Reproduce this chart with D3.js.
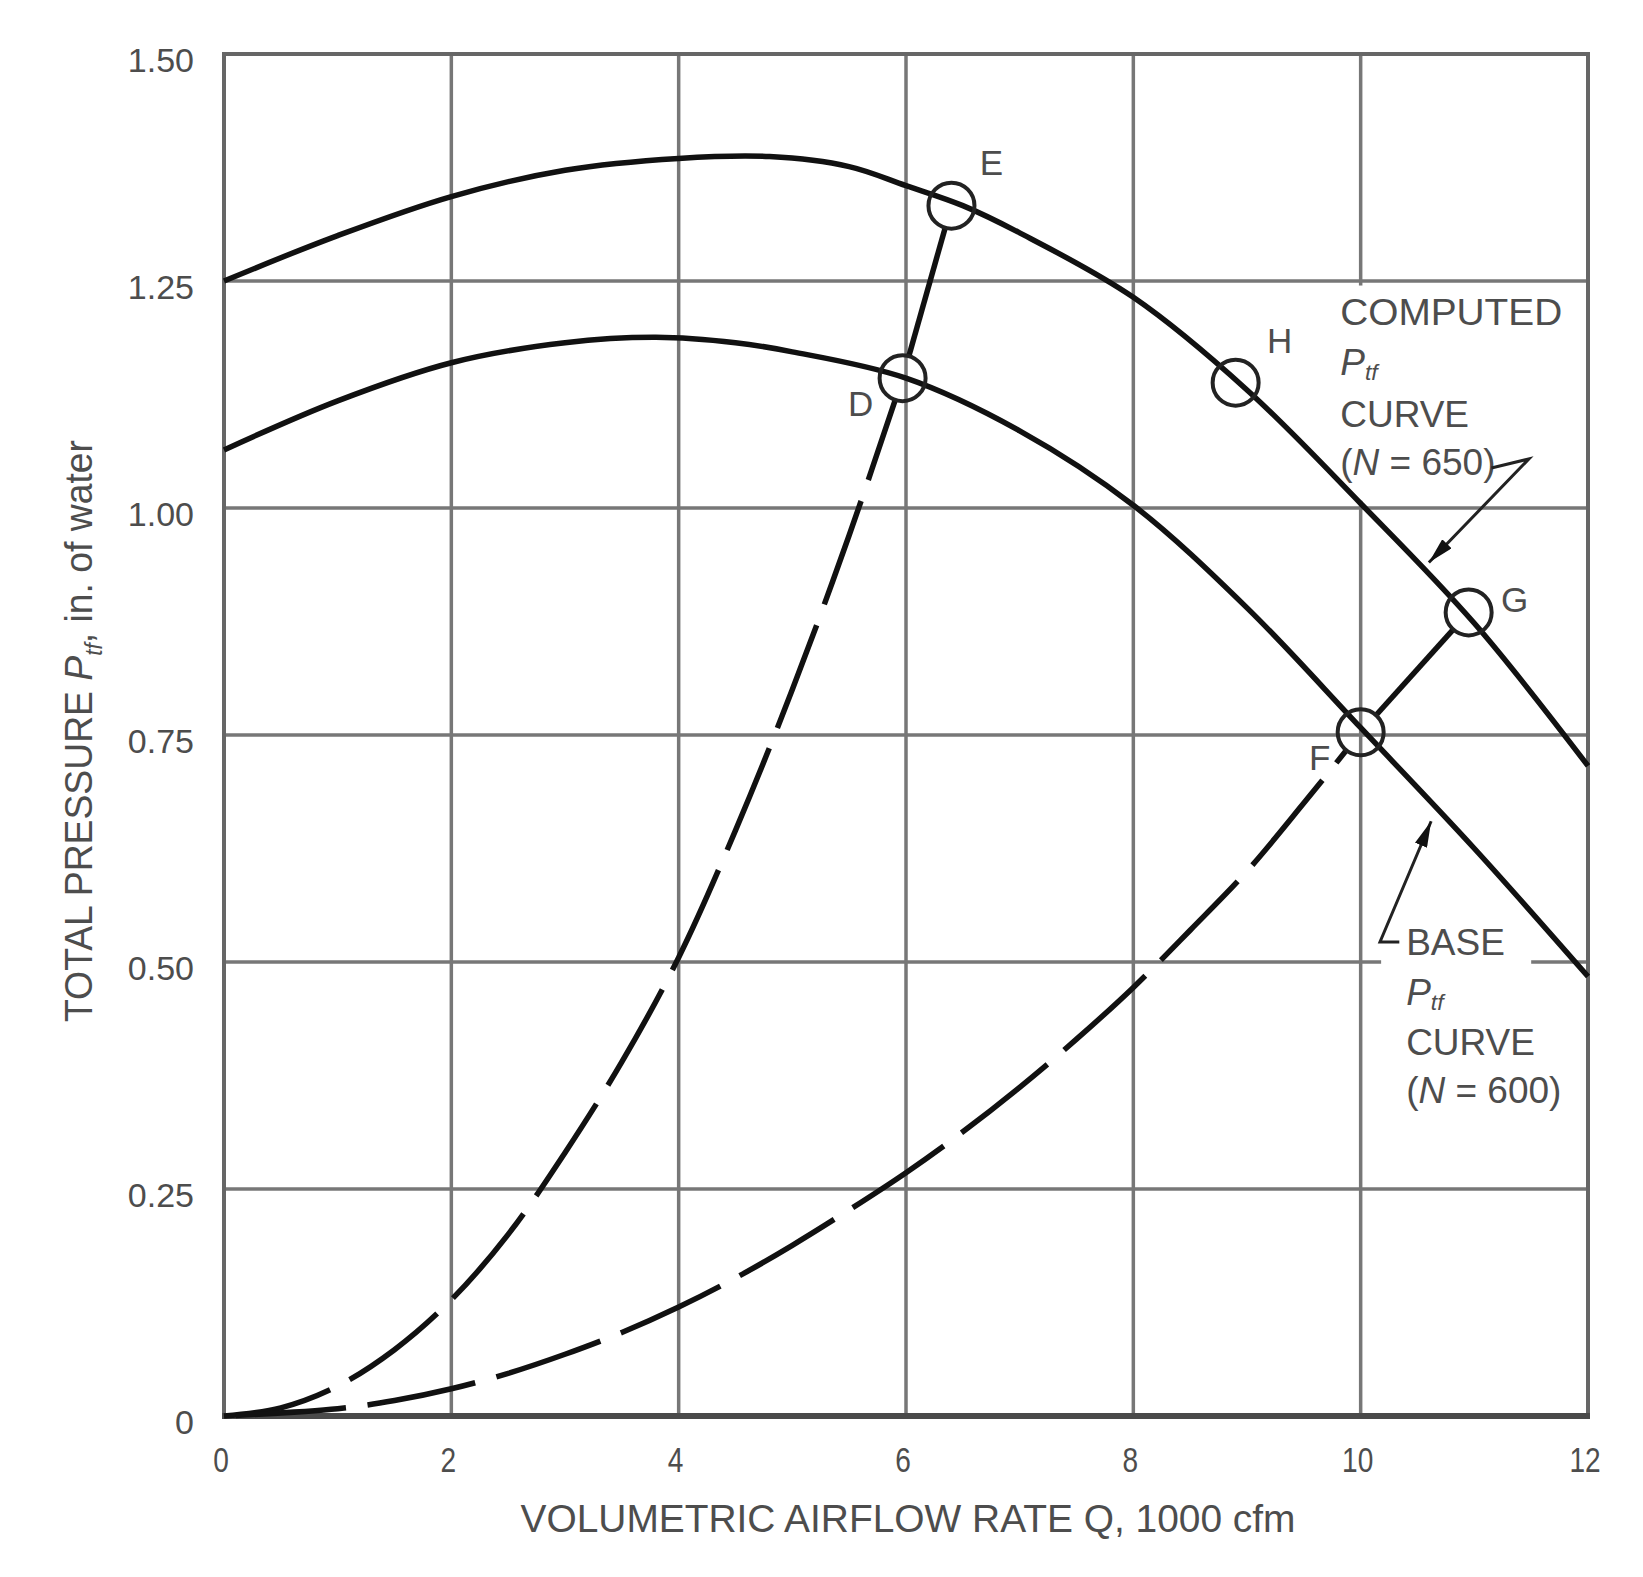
<!DOCTYPE html>
<html><head><meta charset="utf-8">
<script src="https://cdn.jsdelivr.net/npm/d3@7"></script>
<style>
html,body{margin:0;padding:0;background:#fff;}
svg{display:block;}
text{font-family:"Liberation Sans", Arial, Helvetica, sans-serif;}
</style></head><body>
<svg id="chart" width="1643" height="1577"></svg>
<script>
// ---------- data ----------
const xTicks = [0, 2, 4, 6, 8, 10, 12];
const xTickLabels = ["0", "2", "4", "6", "8", "10", "12"];
const yTicks = [0, 0.25, 0.5, 0.75, 1.0, 1.25, 1.5];
const yTickLabels = ["0", "0.25", "0.50", "0.75", "1.00", "1.25", "1.50"];

// Computed Ptf curve (N = 650): [Q (1000 cfm), Ptf (in. of water)]
const computedCurve = [[0,1.25],[1,1.30],[2,1.343],[3,1.372],[4,1.385],[4.8,1.387],[5.5,1.376],[6,1.355],[6.5,1.333],[7,1.303],[8,1.232],[9,1.13],[10,1.005],[11,0.873],[12,0.716]];
// Base Ptf curve (N = 600)
const baseCurve = [[0,1.064],[1,1.118],[2,1.16],[3,1.182],[3.8,1.188],[4.5,1.182],[5,1.172],[6,1.143],[7,1.085],[8,1.003],[9,0.89],[10,0.758],[11,0.625],[12,0.484]];
// System curves (dashed)
const systemCurveA = [[0,0],[0.5,0.009],[1,0.033],[1.5,0.073],[2,0.128],[2.5,0.2],[3,0.29],[3.5,0.39],[4,0.505],[4.5,0.645],[5,0.8],[5.5,0.97],[5.97,1.143]];
const systemCurveB = [[0,0],[1,0.008],[1.5,0.017],[2,0.03],[2.5,0.047],[3,0.068],[3.5,0.092],[4,0.12],[4.5,0.152],[5,0.188],[5.5,0.227],[6,0.268],[6.5,0.313],[7,0.362],[7.5,0.415],[8,0.472],[8.5,0.535],[9,0.6],[9.5,0.675],[10,0.753]];
// Solid connecting segments
const segmentDE = [[5.97,1.143],[6.4,1.333]];
const segmentFG = [[10,0.753],[10.95,0.885]];
// Operating points
const pointIds = ["E", "D", "H", "G", "F"];
const pointQ = [6.4, 5.97, 8.9, 10.95, 10];
const pointP = [1.333, 1.143, 1.138, 0.885, 0.753];

// ---------- layout ----------
const W = 1643, H = 1577;
const svg = d3.select("#chart");
const x = d3.scaleLinear().domain([0, 12]).range([224, 1588]);
const y = d3.scaleLinear().domain([0, 1.5]).range([1416, 54]);
const points = pointIds.map((id, i) => ({id, q: pointQ[i], p: pointP[i]}));
const labelOffset = {E:[40,-43], D:[-42,25], H:[44,-42], G:[46,-13], F:[-41,25]};
const R = 23;
const textColor = "#4d4d4d";

svg.append("rect").attr("width", W).attr("height", H).attr("fill", "#fff");

const defs = svg.append("defs");
const mask = defs.append("mask").attr("id", "holes").attr("maskUnits", "userSpaceOnUse")
  .attr("x", 0).attr("y", 0).attr("width", W).attr("height", H);
mask.append("rect").attr("width", W).attr("height", H).attr("fill", "white");
mask.selectAll("circle").data(points).join("circle")
  .attr("cx", d => x(d.q)).attr("cy", d => y(d.p)).attr("r", R - 1).attr("fill", "black");

defs.append("marker").attr("id", "arrow").attr("viewBox", "0 0 20 10")
  .attr("refX", 20).attr("refY", 5).attr("markerWidth", 26).attr("markerHeight", 13)
  .attr("markerUnits", "userSpaceOnUse").attr("orient", "auto")
  .append("path").attr("d", "M0,0 L20,5 L0,10 Z").attr("fill", "#111");

// ---------- grid ----------
const grid = svg.append("g").attr("stroke", "#777").attr("stroke-width", 3.5);
grid.selectAll("line.v").data(xTicks.slice(1, -1)).join("line").attr("class", "v")
  .attr("x1", d => x(d)).attr("x2", d => x(d)).attr("y1", y(0)).attr("y2", y(1.5));
grid.selectAll("line.h").data(yTicks.slice(1, -1)).join("line").attr("class", "h")
  .attr("x1", x(0)).attr("x2", x(12)).attr("y1", d => y(d)).attr("y2", d => y(d));

// frame
const frame = svg.append("g").attr("fill", "none");
frame.append("path").attr("d", `M${x(0)},${y(0)} L${x(0)},${y(1.5)} L${x(12)},${y(1.5)} L${x(12)},${y(0)}`)
  .attr("stroke", "#666").attr("stroke-width", 4).attr("stroke-linejoin", "miter");
frame.append("line").attr("x1", x(0) - 2).attr("x2", x(12) + 2).attr("y1", y(0)).attr("y2", y(0))
  .attr("stroke", "#4a4a4a").attr("stroke-width", 6);

// white boxes behind annotations
svg.append("rect").attr("x", x(9.8)).attr("y", y(1.245)).attr("width", x(11.6) - x(9.8))
  .attr("height", y(1.008) - y(1.245)).attr("fill", "#fff");
svg.append("rect").attr("x", x(10.18)).attr("y", y(0.545)).attr("width", x(11.5) - x(10.18))
  .attr("height", y(0.33) - y(0.545)).attr("fill", "#fff");

// ---------- curves ----------
const smooth = d3.line().x(d => x(d[0])).y(d => y(d[1])).curve(d3.curveCatmullRom.alpha(0.5));
const straight = d3.line().x(d => x(d[0])).y(d => y(d[1]));

const sys = svg.append("g").attr("mask", "url(#holes)").attr("fill", "none")
  .attr("stroke", "#111").attr("stroke-width", 5.5);
sys.append("path").attr("d", smooth(systemCurveA)).attr("stroke-dasharray", "110 22");
sys.append("path").attr("d", smooth(systemCurveB)).attr("stroke-dasharray", "110 22").attr("stroke-dashoffset", -12);
sys.append("path").attr("d", straight(segmentDE));
sys.append("path").attr("d", straight(segmentFG));

const fans = svg.append("g").attr("fill", "none").attr("stroke", "#111").attr("stroke-width", 5.5);
fans.append("path").attr("d", smooth(computedCurve));
fans.append("path").attr("d", smooth(baseCurve));

// circles
svg.append("g").selectAll("circle").data(points).join("circle")
  .attr("cx", d => x(d.q)).attr("cy", d => y(d.p)).attr("r", R)
  .attr("fill", "none").attr("stroke", "#222").attr("stroke-width", 4);

svg.append("g").selectAll("text").data(points).join("text")
  .attr("x", d => x(d.q) + labelOffset[d.id][0]).attr("y", d => y(d.p) + labelOffset[d.id][1])
  .attr("text-anchor", "middle").attr("dominant-baseline", "central")
  .attr("font-size", 35).attr("fill", textColor).text(d => d.id);

// ---------- annotations ----------
function ptf(t, fs) {
  t.append("tspan").attr("font-style", "italic").text("P");
  t.append("tspan").attr("font-style", "italic").attr("font-size", fs * 0.62).attr("dy", fs * 0.28).text("tf");
}
function note(q, lines, yVals, label) {
  const fs = 37;
  const g = svg.append("g").attr("font-size", fs).attr("fill", textColor);
  lines.forEach((ln, i) => {
    const t = g.append("text").attr("x", x(q)).attr("y", y(yVals[i])).attr("dominant-baseline", "central");
    if (ln === "PTF") ptf(t, fs);
    else if (ln === "N") {
      t.append("tspan").text("(");
      t.append("tspan").attr("font-style", "italic").text("N");
      t.append("tspan").text(" = " + label + ")");
    } else t.text(ln);
  });
  return g;
}
const n1 = note(9.82, ["COMPUTED", "PTF", "CURVE", "N"], [1.215, 1.161, 1.103, 1.051], "650");
n1.select("text").attr("textLength", 222).attr("lengthAdjust", "spacingAndGlyphs");
note(10.4, ["BASE", "PTF", "CURVE", "N"], [0.521, 0.467, 0.411, 0.359], "600");

const arr = svg.append("g").attr("fill", "none").attr("stroke", "#222").attr("stroke-width", 3);
arr.append("path").attr("d", straight([[11.15, 1.044], [11.48, 1.054], [10.6, 0.94]])).attr("marker-end", "url(#arrow)");
arr.append("path").attr("d", straight([[10.34, 0.522], [10.17, 0.522], [10.62, 0.655]])).attr("marker-end", "url(#arrow)");

// ---------- axes labels ----------
const yl = svg.append("g").attr("font-size", 34).attr("fill", textColor).attr("text-anchor", "end");
yl.selectAll("text").data(yTicks).join("text")
  .attr("x", 194).attr("y", d => y(d) + 18).text((d, i) => yTickLabels[i]);

const xl = svg.append("g").attr("font-size", 36).attr("fill", textColor);
xl.selectAll("text").data(xTicks).join("text")
  .attr("text-anchor", "middle")
  .attr("transform", d => `translate(${x(d) - 3},1472) scale(0.78,1)`)
  .text((d, i) => xTickLabels[i]);

svg.append("text").attr("x", 908).attr("y", 1532).attr("text-anchor", "middle")
  .attr("font-size", 38).attr("fill", textColor)
  .attr("textLength", 775).attr("lengthAdjust", "spacingAndGlyphs")
  .text("VOLUMETRIC AIRFLOW RATE Q, 1000 cfm");

const yt = svg.append("text").attr("transform", "translate(92,731) rotate(-90)")
  .attr("text-anchor", "middle").attr("font-size", 38).attr("fill", textColor)
  .attr("textLength", 582).attr("lengthAdjust", "spacingAndGlyphs");
yt.append("tspan").text("TOTAL PRESSURE ");
yt.append("tspan").attr("font-style", "italic").text("P");
yt.append("tspan").attr("font-style", "italic").attr("font-size", 23).attr("dy", 10).text("tf");
yt.append("tspan").attr("dy", -10).text(", in. of water");
</script>
</body></html>
